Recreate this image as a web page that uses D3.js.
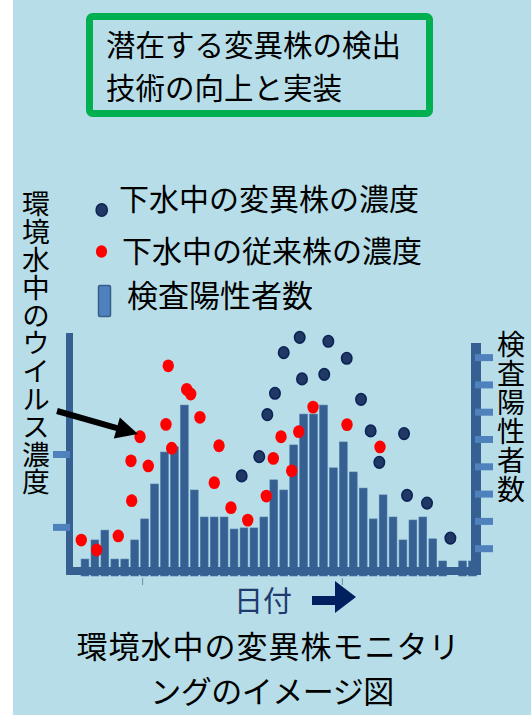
<!DOCTYPE html>
<html><head><meta charset="utf-8">
<script src="https://cdn.jsdelivr.net/npm/d3@7/dist/d3.min.js"></script>
<style>
html,body{margin:0;padding:0;background:#fff;}
svg{display:block;}
text{font-family:"Noto Sans CJK JP","Noto Sans CJK SC",sans-serif;}
</style></head>
<body>
<svg id="c" width="531" height="715"></svg>
<script>
// ---- data ----
const titleLines = ["潜在する変異株の検出", "技術の向上と実装"];
const legendLabels = ["下水中の変異株の濃度", "下水中の従来株の濃度", "検査陽性者数"];
const leftLabel = "環境水中のウイルス濃度";
const rightLabel = "検査陽性者数";
const xLabel = "日付";
const captionLines = ["環境水中の変異株モニタリ", "ングのイメージ図"];

// 検査陽性者数 per day (40 days)
const positives = [0.62,1.32,1.68,0.62,0.62,1.32,2.09,3.37,4.54,4.73,
                   6.26,3.15,2.16,2.16,2.16,1.72,1.76,1.76,2.16,3.52,
                   3.15,4.80,5.93,5.93,6.26,3.96,4.91,3.81,3.22,2.09,
                   2.97,2.16,1.32,2.05,2.16,1.36,0.55,0,0.55,0.55];
// 従来株 concentration: [day, value]
const conventional = [[-0.37,14.8],[1.18,10.7],[3.35,16.5],[4.70,31.0],[4.63,47.4],
  [5.54,57.3],[6.37,45.3],[8.38,86.5],[8.15,62.4],[8.73,52.6],[10.24,76.8],[10.64,74.9],
  [11.57,65.3],[13.49,53.6],[13.01,38.4],[14.69,28.1],[16.38,23.0],[18.25,32.9],
  [18.95,48.4],[19.73,57.3],[20.80,43.3],[21.51,59.4],[22.95,69.5],[26.37,62.3],[29.69,53.1]];
// 変異株 concentration: [day, value]
const variant = [[15.77,41.2],[17.54,49.1],[18.35,66.4],[19.12,75.2],[20.00,91.9],
  [21.61,98.2],[21.84,81.1],[24.08,83.0],[24.49,96.6],[26.34,89.6],[27.78,72.7],
  [28.75,59.7],[29.62,46.8],[32.11,58.6],[32.41,33.2],[34.42,30.0],[36.77,15.6]];
const leftTicks = [20, 50];
const rightTicks = [1,2,3,4,5,6,7,8];

// ---- drawing ----
const svg = d3.select("#c");
svg.append("rect").attr("x",13).attr("y",0).attr("width",518).attr("height",715).attr("fill","#b7dee8");

const xBand = d3.scaleBand().domain(d3.range(positives.length)).range([80,477.5]).paddingInner(0.22).paddingOuter(0.11);
const xDay = d3.scaleLinear().domain([0, positives.length-1]).range([xBand(0)+xBand.bandwidth()/2, xBand(positives.length-1)+xBand.bandwidth()/2]);
const yCount = d3.scaleLinear().domain([0,10]).range([576,303]);
const yConc = d3.scaleLinear().domain([0,100]).range([576,333]);

// title box
svg.append("rect").attr("x",89.5).attr("y",16.5).attr("width",340).attr("height",97).attr("rx",3)
  .attr("fill","none").attr("stroke","#00b050").attr("stroke-width",7);
svg.selectAll("text.title").data(titleLines).join("text").attr("class","title")
  .attr("x",106).attr("y",(d,i)=>56+i*43).attr("font-size",29.5).attr("fill","#000").text(d=>d);

// legend
const lg = svg.append("g");
lg.append("ellipse").attr("cx",101.7).attr("cy",210).attr("rx",5.6).attr("ry",6.2).attr("fill","#203864").attr("stroke","#0d2357").attr("stroke-width",1.5);
lg.append("ellipse").attr("cx",101.5).attr("cy",251.5).attr("rx",5.6).attr("ry",6.2).attr("fill","#ff0000");
lg.append("rect").attr("x",98.5).attr("y",285.5).attr("width",12).attr("height",31).attr("rx",1.5).attr("fill","#4f81bd").attr("stroke","#385d8a").attr("stroke-width",1.5);
const lgPos = [[119,210,30],[122,262,30],[127,307,31]];
lg.selectAll("text").data(legendLabels).join("text")
  .attr("x",(d,i)=>lgPos[i][0]).attr("y",(d,i)=>lgPos[i][1]).attr("font-size",(d,i)=>lgPos[i][2]).text(d=>d);

// vertical labels
svg.append("text").attr("x",36).attr("y",190)
  .attr("style","writing-mode:vertical-rl;text-orientation:upright;")
  .attr("font-size",27.8).text(leftLabel);
svg.append("text").attr("x",511).attr("y",330)
  .attr("style","writing-mode:vertical-rl;text-orientation:upright;letter-spacing:1px;")
  .attr("font-size",28).text(rightLabel);

// bars
svg.append("g").selectAll("rect").data(positives).join("rect")
  .attr("x",(d,i)=>xBand(i)).attr("width",xBand.bandwidth())
  .attr("y",d=>yCount(d)).attr("height",d=>yCount(0)-yCount(d))
  .attr("fill","#376092").attr("stroke","#4a74a8").attr("stroke-width",0.6);

// axes frame
const axisColor = "#376092";
svg.append("rect").attr("x",66).attr("y",567).attr("width",415).attr("height",8).attr("fill",axisColor);
svg.append("rect").attr("x",66).attr("y",333).attr("width",7).attr("height",242).attr("fill",axisColor);
svg.append("rect").attr("x",471).attr("y",343).attr("width",10).attr("height",232).attr("fill",axisColor);
// ticks
svg.append("g").selectAll("rect").data(leftTicks).join("rect")
  .attr("x",53).attr("y",d=>yConc(d)-3.5).attr("width",17).attr("height",7).attr("fill","#4f81bd");
svg.append("g").selectAll("rect").data(rightTicks).join("rect")
  .attr("x",475).attr("y",d=>yCount(d)-3.5).attr("width",18).attr("height",7).attr("fill","#4f81bd");
// small date ticks
svg.append("g").selectAll("line").data([5.8, 25.9]).join("line")
  .attr("x1",d=>xDay(d)).attr("x2",d=>xDay(d)).attr("y1",578).attr("y2",585)
  .attr("stroke","#6a8fa8").attr("stroke-width",1);

// dots
svg.append("g").selectAll("ellipse").data(conventional).join("ellipse")
  .attr("cx",d=>xDay(d[0])).attr("cy",d=>yConc(d[1])).attr("rx",5.7).attr("ry",6.4).attr("fill","#ff0000");
svg.append("g").selectAll("ellipse").data(variant).join("ellipse")
  .attr("cx",d=>xDay(d[0])).attr("cy",d=>yConc(d[1])).attr("rx",5.2).attr("ry",5.8)
  .attr("fill","#203864").attr("stroke","#0d2357").attr("stroke-width",1.6);

// arrow pointing to a dot
const ax0 = 57, ay0 = 411, ax1 = 138, ay1 = 434;
const ang = Math.atan2(ay1-ay0, ax1-ax0);
const hl = 22, hw = 11;
const bx = ax1 - hl*Math.cos(ang), by = ay1 - hl*Math.sin(ang);
svg.append("line").attr("x1",ax0).attr("y1",ay0).attr("x2",bx+2*Math.cos(ang)).attr("y2",by+2*Math.sin(ang))
  .attr("stroke","#000").attr("stroke-width",6);
svg.append("path").attr("d",`M${ax1},${ay1}L${bx - hw*Math.sin(ang)},${by + hw*Math.cos(ang)}L${bx + hw*Math.sin(ang)},${by - hw*Math.cos(ang)}Z`).attr("fill","#000");

// x label with block arrow
svg.append("text").attr("x",234).attr("y",612).attr("font-size",29).attr("fill","#1f3a6e").text(xLabel);
svg.append("path").attr("d","M312,596H335V581L356,597L335,613V605H312Z").attr("fill","#002060");

// caption
const capCfg = [[268.5,658,"1px"],[272,703,"-0.5px"]];
svg.selectAll("text.cap").data(captionLines).join("text").attr("class","cap")
  .attr("x",(d,i)=>capCfg[i][0]).attr("y",(d,i)=>capCfg[i][1]).attr("text-anchor","middle")
  .attr("style",(d,i)=>"letter-spacing:"+capCfg[i][2])
  .attr("font-size",31).attr("fill","#000").text(d=>d);
</script>
</body></html>
